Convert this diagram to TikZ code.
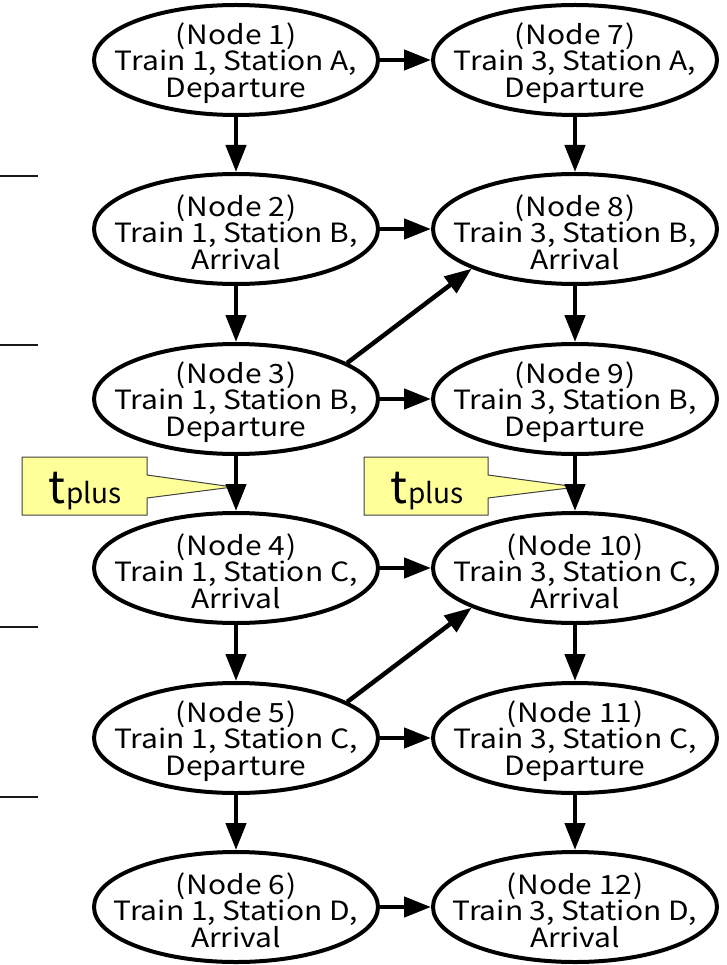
\documentclass[tikz,border=0pt]{standalone}
\usepackage{fontspec}
\setmainfont{Noto Sans CJK JP}[FakeStretch=1.13]
\newfontfamily\notefont{Noto Sans CJK JP}
\usetikzlibrary{arrows.meta,shapes.geometric}
\definecolor{noteyellow}{HTML}{FFFF99}
\definecolor{noteedge}{HTML}{404040}
\tikzset{
  event/.style={draw=black, line width=4pt, ellipse, minimum width=284pt,
    minimum height=110pt, inner sep=0pt},
  evtext/.style={inner sep=0pt, align=center,
    font=\fontsize{26.5}{26.5}\selectfont},
  flow/.style={line width=4.5pt, -{Triangle[length=27pt,width=20pt]}},
  tick/.style={line width=2pt, draw=black!90},
  note/.style={fill=noteyellow, draw=noteedge, line width=1pt, line join=miter},
  notetext/.style={inner sep=0pt, anchor=base west, font=\notefont}
}
\newcommand{\tplus}{{\fontsize{45}{45}\selectfont t}\kern1pt{\fontsize{28}{28}\selectfont plus}}
\begin{document}
\begin{tikzpicture}[x=1pt, y=-1pt]
\useasboundingbox (0,0) rectangle (726,965);
% event nodes: left column train 1, right column train 3
\foreach \i/\y/\st/\ev in {1/60/A/Departure, 2/229/B/Arrival, 3/399/B/Departure,
                           4/568/C/Arrival, 5/738/C/Departure, 6/907/D/Arrival}{
  \node[event] (n\i) at (236,\y) {};
  \node[evtext] (t\i) at ([yshift=-3pt]n\i.center) {(\kern1pt Node \i\kern1pt)\\Train 1, Station \st,\\\ev};
}
\foreach \i/\y/\st/\ev in {7/60/A/Departure, 8/229/B/Arrival, 9/399/B/Departure,
                           10/568/C/Arrival, 11/738/C/Departure, 12/907/D/Arrival}{
  \node[event] (n\i) at (575,\y) {};
  \node[evtext] (t\i) at ([yshift=-3pt]n\i.center) {(\kern1pt Node \i\kern1pt)\\Train 3, Station \st,\\\ev};
}
% station boundary marks
\foreach \y in {176,345,627,797}{
  \draw[tick] (0,\y) -- (38,\y);
}
% buffer time callouts
\coordinate (tipL) at (233,487);
\coordinate (tipR) at (577,487);
\draw[note] (22,457) -- (147,457) -- (147,475) -- (tipL) -- (147,498) -- (147,515) -- (22,515) -- cycle;
\draw[note] (364,457) -- (488,457) -- (488,475) -- (tipR) -- (488,498) -- (488,515) -- (364,515) -- cycle;
\node[notetext] (tpL) at (48,503) {\tplus};
\node[notetext] (tpR) at (390,503) {\tplus};
% train runs
\foreach \a/\b in {1/2,2/3,3/4,4/5,5/6,7/8,8/9,9/10,10/11,11/12}{
  \draw[flow] (n\a) -- (n\b);
}
% transfers between trains
\foreach \a/\b in {1/7,2/8,3/9,4/10,5/11,6/12}{
  \draw[flow] (n\a) -- (n\b);
}
\draw[flow] (n3.18) -- (n8.201);
\draw[flow] (n5.18) -- (n10.201);
\end{tikzpicture}
\end{document}
